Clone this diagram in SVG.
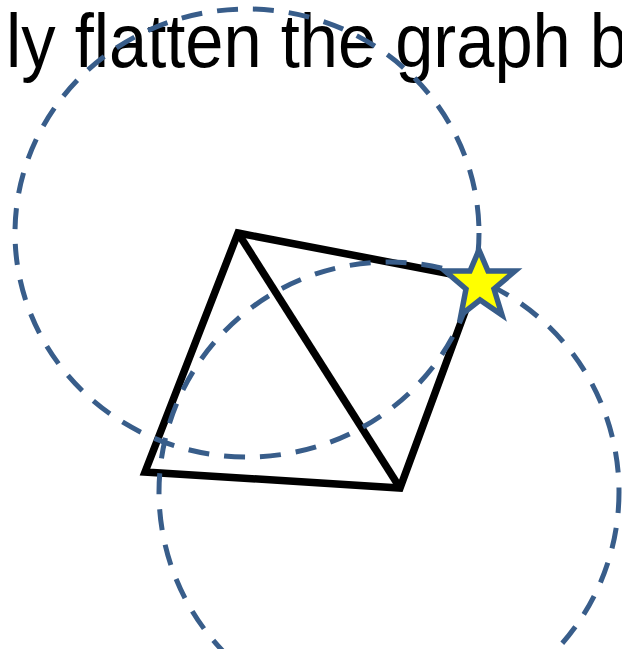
<svg xmlns="http://www.w3.org/2000/svg" width="622" height="649" viewBox="0 0 622 649">
<style>
.title{font-family:"Liberation Sans",Arial,sans-serif;font-size:76px;fill:#000}
.edge{stroke:#000;stroke-width:7.5;fill:none;stroke-linejoin:miter;stroke-linecap:butt}
.circ{fill:none;stroke:#385D8A;stroke-width:5;stroke-dasharray:21 15}
.star{fill:#FFFF00;stroke:#385D8A;stroke-width:5.5;stroke-linejoin:miter}
</style>
<rect width="622" height="649" fill="#fff"/>
<text class="title" x="6" y="67" textLength="622" lengthAdjust="spacingAndGlyphs">ly flatten the graph b</text>
<g id="edges">
<polygon class="edge" points="238,233 477,279 400,488 145,472"/>
<line class="edge" x1="238" y1="233" x2="400" y2="488"/>
</g>
<g id="circle-upper"><ellipse class="circ" cx="247" cy="233" rx="232" ry="224"/></g>
<g id="circle-lower"><circle class="circ" cx="389" cy="492" r="230"/></g>
<g id="star"><path class="star" d="M479,250 L488,271 L515,271 L494,289 L502,315 L480,300 L461,315 L466,289 L445,271 L470,271 Z"/></g>
</svg>
